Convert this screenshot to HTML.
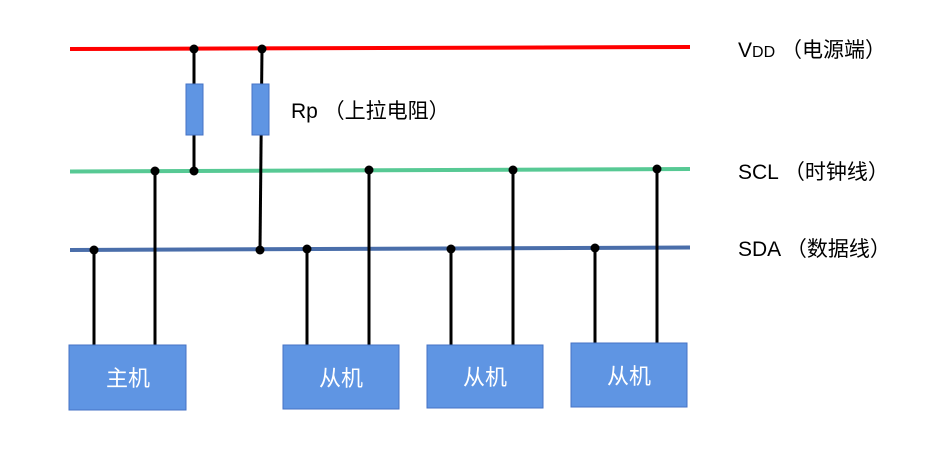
<!DOCTYPE html>
<html><head><meta charset="utf-8"><style>
body{margin:0;background:#fff;}
svg text{font-family:"Liberation Sans","Noto Sans CJK SC",sans-serif;}
</style></head><body>
<svg width="932" height="464" xmlns="http://www.w3.org/2000/svg">
<line x1="70" y1="49" x2="690" y2="47" stroke="#ff0000" stroke-width="4"/>
<line x1="70" y1="171.5" x2="690" y2="169" stroke="#57c994" stroke-width="4"/>
<line x1="70" y1="250" x2="690" y2="247.5" stroke="#4a6eaa" stroke-width="4"/>
<g stroke="#000" stroke-width="3">
<line x1="194" y1="48" x2="194" y2="171"/>
<line x1="262" y1="48" x2="260" y2="250"/>
<line x1="155" y1="171" x2="155" y2="345"/>
<line x1="94" y1="250" x2="94" y2="345"/>
<line x1="369" y1="170" x2="369" y2="345"/>
<line x1="307" y1="249" x2="307" y2="345"/>
<line x1="513" y1="170" x2="513" y2="345"/>
<line x1="451" y1="249" x2="451" y2="345"/>
<line x1="657" y1="169" x2="657" y2="343"/>
<line x1="595" y1="248" x2="595" y2="343"/>
</g>
<rect x="186" y="84" width="17" height="51" fill="#5f95e3" stroke="#4472c4" stroke-width="1"/>
<rect x="252" y="84" width="17" height="51" fill="#5f95e3" stroke="#4472c4" stroke-width="1"/>
<g fill="#000">
<circle cx="194" cy="49" r="4.5"/><circle cx="262" cy="49" r="4.5"/>
<circle cx="155" cy="171" r="4.5"/><circle cx="194" cy="171" r="4.5"/>
<circle cx="369" cy="170" r="4.5"/><circle cx="513" cy="170" r="4.5"/><circle cx="657" cy="169" r="4.5"/>
<circle cx="94" cy="250" r="4.5"/><circle cx="260" cy="250" r="4.5"/>
<circle cx="307" cy="249" r="4.5"/><circle cx="451" cy="249" r="4.5"/><circle cx="595" cy="248" r="4.5"/>
</g>
<g fill="#5f95e3" stroke="#4472c4" stroke-width="1">
<rect x="69" y="345" width="117" height="65"/>
<rect x="283" y="345" width="116" height="64"/>
<rect x="427" y="345" width="116" height="63"/>
<rect x="571" y="343" width="116" height="64"/>
</g>
<g fill="#fff" font-size="22" text-anchor="middle">
<text x="128" y="386">主机</text>
<text x="341" y="386">从机</text>
<text x="485" y="385">从机</text>
<text x="629" y="384">从机</text>
</g>
<g fill="#000" font-size="21">
<text x="738" y="57">V<tspan font-size="16">DD</tspan> （电源端）</text>
<text x="738" y="179">SCL （时钟线）</text>
<text x="738" y="256">SDA （数据线）</text>
<text x="291" y="118">Rp （上拉电阻）</text>
</g>
</svg>
</body></html>
